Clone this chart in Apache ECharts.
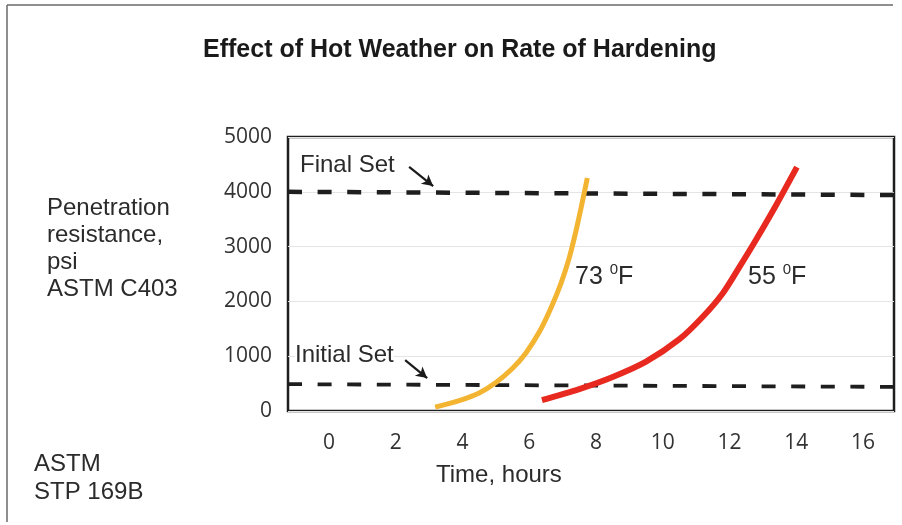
<!DOCTYPE html>
<html>
<head>
<meta charset="utf-8">
<title>Effect of Hot Weather on Rate of Hardening</title>
<script src="https://cdn.jsdelivr.net/npm/echarts@6/dist/echarts.min.js"></script>
<style>
  html, body { margin: 0; padding: 0; background: #fff; }
  #chart { width: 902px; height: 525px; }
</style>
</head>
<body>
<div id="chart"></div>
<script>
// Penetration resistance (psi) against time (hours), ASTM C403
const timeTicks = [0, 2, 4, 6, 8, 10, 12, 14, 16];
const psiTicks = [0, 1000, 2000, 3000, 4000, 5000];

const hours73F = [3.18, 3.9, 4.5, 5.0, 5.5, 5.9, 6.3, 6.65, 6.95, 7.2, 7.45, 7.74];
const psi73F   = [70, 190, 330, 520, 780, 1060, 1440, 1880, 2330, 2800, 3420, 4250];

const hours55F = [6.38, 7.5, 8.5, 9.5, 10.5, 11.2, 11.8, 12.3, 12.8, 13.4, 14.02];
const psi55F   = [200, 400, 620, 900, 1310, 1720, 2150, 2630, 3130, 3760, 4450];

// set thresholds, drawn edge to edge across the time range
const xRange = [-1.23, 16.93];
const finalSetPsi = [4000, 3940];
const initialSetPsi = [490, 440];

// pointer arrows from the set labels to their lines
const finalArrow = [[2.40, 4455], [3.12, 4105]];
const initialArrow = [[2.28, 927], [2.94, 600]];

const pair = (xs, ys) => xs.map((x, i) => [x, ys[i]]);

const textFont = '"Liberation Sans", Arial, sans-serif';
const tickFont = '"Open Sans", "Noto Sans", sans-serif';
const ink = '#2b2b2b';

const chart = echarts.init(document.getElementById('chart'), null, { renderer: 'canvas' });

function txt(text, left, top, size, bg) {
  const style = { text: text, fill: ink, font: 'normal ' + size + 'px ' + textFont };
  if (bg) { style.backgroundColor = '#fff'; }
  return { type: 'text', left: left, top: top, silent: true, z: 20, style: style };
}

function tempLabel(deg, left, top) {
  return {
    type: 'text', left: left, top: top, silent: true, z: 20,
    style: {
      text: '{a|' + deg + ' }{b|0}{a|F}',
      rich: {
        a: { fontSize: 25, fontFamily: textFont, fill: ink, color: ink, lineHeight: 30 },
        b: { fontSize: 15, fontFamily: textFont, fill: ink, color: ink, verticalAlign: 'top', lineHeight: 30 }
      }
    }
  };
}

const markArrow = (pts) => ({
  silent: true,
  symbol: ['none', 'arrow'],
  symbolSize: [9, 11],
  label: { show: false },
  lineStyle: { type: 'solid', width: 2.2, color: '#1a1a1a' },
  data: [[{ coord: pts[0] }, { coord: pts[1] }]]
});

chart.setOption({
  animation: false,
  grid: {
    left: 288, right: 8, top: 137, bottom: 114,
    show: true, borderColor: '#1e1e1e', borderWidth: 2.5, backgroundColor: 'transparent'
  },
  xAxis: {
    type: 'value',
    min: xRange[0], max: xRange[1],
    axisLine: { show: false },
    axisTick: { show: false },
    splitLine: { show: false },
    axisLabel: {
      customValues: timeTicks,
      margin: 22,
      fontFamily: tickFont, fontSize: 21, color: '#333'
    }
  },
  yAxis: {
    type: 'value',
    min: psiTicks[0], max: psiTicks[psiTicks.length - 1], interval: 1000,
    axisLine: { show: false },
    axisTick: { show: false },
    splitLine: { show: true, lineStyle: { color: '#e4e4e4', width: 1 } },
    axisLabel: {
      margin: 16, fontFamily: tickFont, fontSize: 21, color: '#333',
      formatter: (v) => String(v)
    }
  },
  series: [
    {
      name: 'Final Set', type: 'line', silent: true, symbol: 'none',
      data: [[xRange[0], finalSetPsi[0]], [xRange[1], finalSetPsi[1]]],
      lineStyle: { color: '#1e1e1e', width: 4.5, type: [14, 15.6] },
      markLine: markArrow(finalArrow), z: 3
    },
    {
      name: 'Initial Set', type: 'line', silent: true, symbol: 'none',
      data: [[xRange[0], initialSetPsi[0]], [xRange[1], initialSetPsi[1]]],
      lineStyle: { color: '#1e1e1e', width: 3.8, type: [14, 15.6] },
      markLine: markArrow(initialArrow), z: 3
    },
    {
      name: '73 °F', type: 'line', silent: true, symbol: 'none', smooth: 0.3,
      data: pair(hours73F, psi73F),
      lineStyle: { color: '#F2B431', width: 5 }, z: 4
    },
    {
      name: '55 °F', type: 'line', silent: true, symbol: 'none', smooth: 0.3,
      data: pair(hours55F, psi55F),
      lineStyle: { color: '#E8291F', width: 6 }, z: 4
    }
  ],
  graphic: [
    { type: 'line', silent: true, shape: { x1: 7, y1: 5, x2: 893, y2: 5 }, style: { stroke: '#6a6a6a', lineWidth: 1.5 } },
    { type: 'line', silent: true, shape: { x1: 7, y1: 5, x2: 7, y2: 522 }, style: { stroke: '#6a6a6a', lineWidth: 1.5 } },
    {
      type: 'text', left: 203, top: 38, silent: true,
      style: { text: 'Effect of Hot Weather on Rate of Hardening', fill: '#1a1a1a', font: 'bold 25px ' + textFont }
    },
    txt('Final Set', 300, 153, 24),
    txt('Initial Set', 295, 343, 24, true),
    txt('Penetration', 47, 196, 24),
    txt('resistance,', 47, 223, 24),
    txt('psi', 47, 250, 24),
    txt('ASTM C403', 47, 277, 24),
    txt('ASTM', 34, 452, 24),
    txt('STP 169B', 34, 480, 24),
    txt('Time, hours', 436, 463, 24),
    tempLabel('73', 575, 262),
    tempLabel('55', 748, 262)
  ]
});
</script>
</body>
</html>
